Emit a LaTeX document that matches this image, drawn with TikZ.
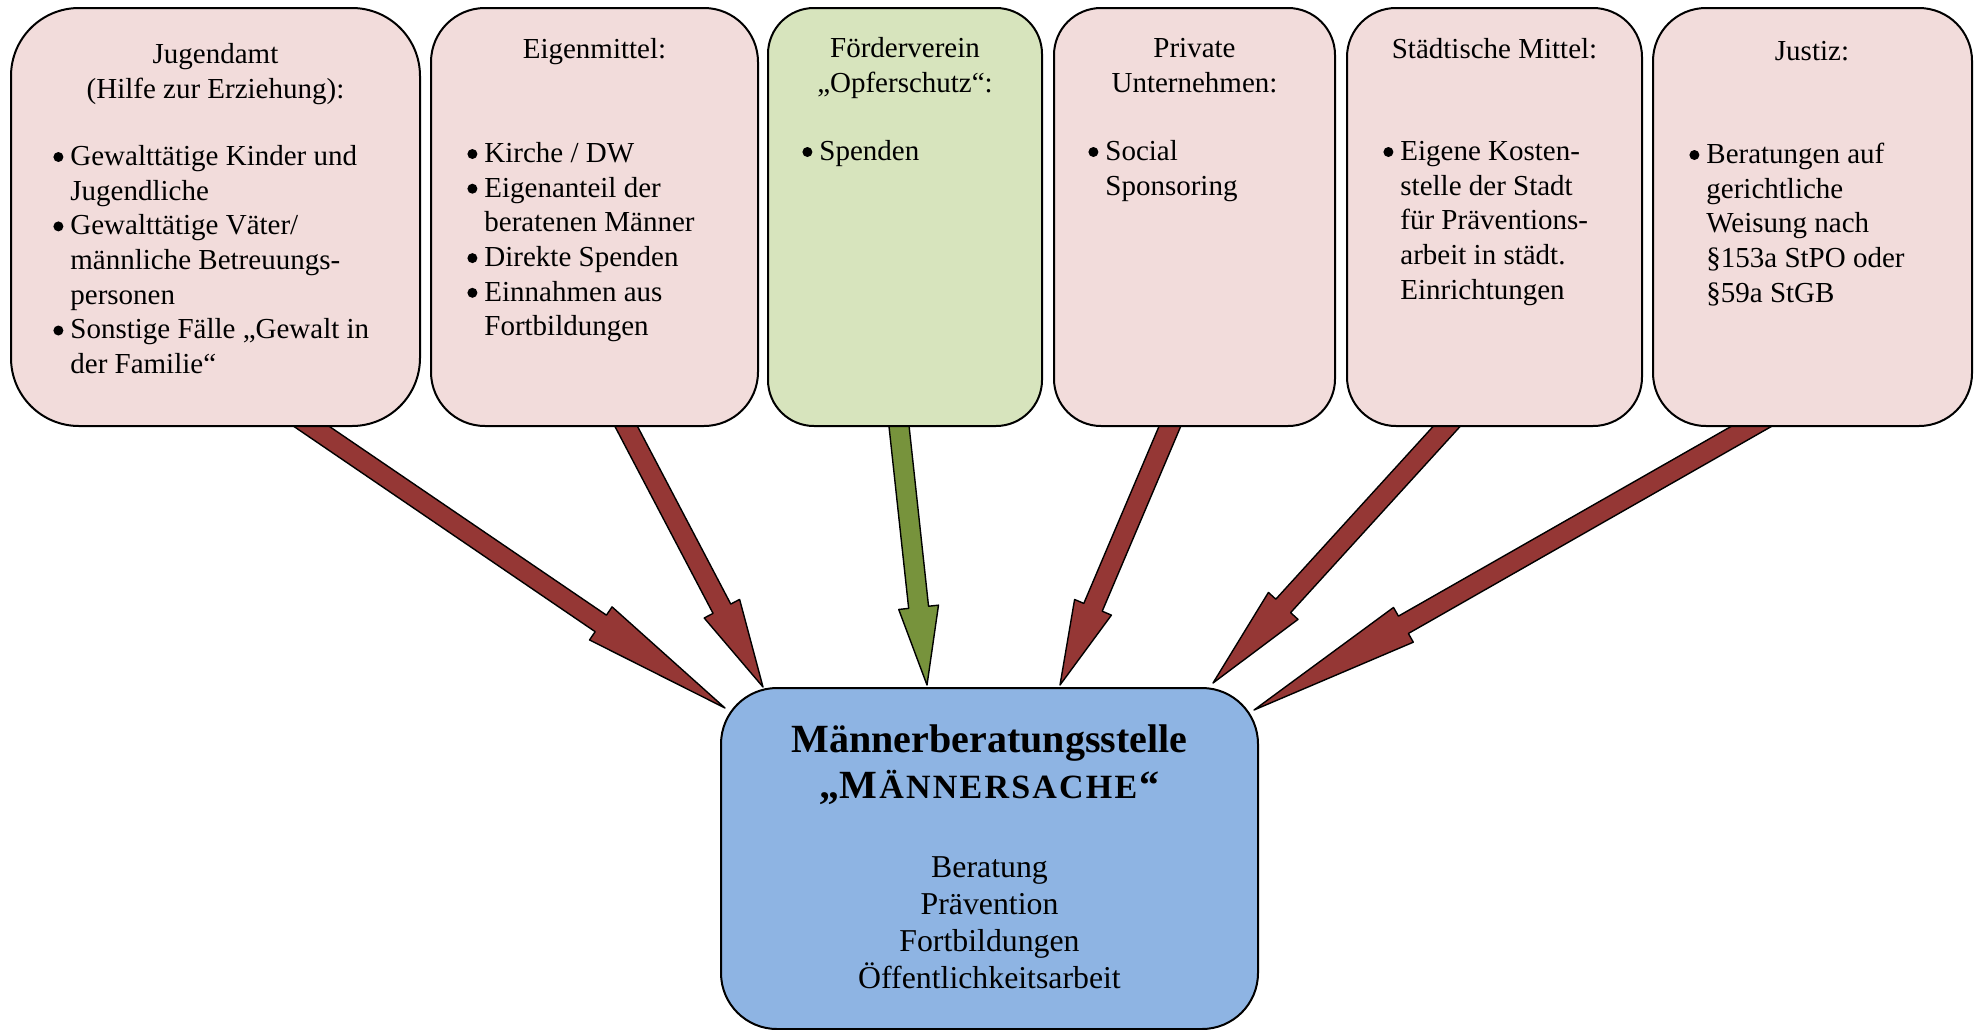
\documentclass[tikz,border=0pt]{standalone}
\usepackage{fontspec}
\setmainfont{Liberation Serif}
\usetikzlibrary{calc,fit}
\definecolor{boxpink}{HTML}{F2DCDB}
\definecolor{boxgreen}{HTML}{D7E4BD}
\definecolor{boxblue}{HTML}{8EB4E3}
\definecolor{arrred}{HTML}{953735}
\definecolor{arrgreen}{HTML}{77933C}
\newcommand\bul{\makebox[0pt][r]{\tikz[baseline=0pt]\fill (0pt,4.2pt) circle (2.5pt);\hspace{3.5pt}}}
\newcommand\tp{\rule{0pt}{14pt}}
\newcommand\sck{\kern1.1pt}
\newcommand\flowarrow[3]{%
  \coordinate (fa-h) at ($(#2)!0.7!(#3)$);
  \coordinate (fa-a) at ($(#2)!-14pt!(#3)$);
  \filldraw[#1] ($(fa-a)!5pt!90:(#3)$) -- ($(fa-h)!5pt!-90:(fa-a)$) -- ($(fa-h)!10pt!-90:(fa-a)$) -- (#3) -- ($(fa-h)!10pt!90:(fa-a)$) -- ($(fa-h)!5pt!90:(fa-a)$) -- ($(fa-a)!5pt!-90:(#3)$) -- cycle;
}
\begin{document}
\begin{tikzpicture}[x=0.5pt,y=-0.5pt,
  box/.style={draw=black, line width=1pt, inner sep=0pt},
  hdr/.style={anchor=north, inner sep=0pt, align=center, font=\fontsize{14.5}{17.35}\selectfont},
  lst/.style={anchor=north west, inner sep=0pt, align=left, font=\fontsize{14.5}{17.35}\selectfont},
  redarrow/.style={fill=arrred, draw=black, line width=0.7pt, line join=round},
  greenarrow/.style={fill=arrgreen, draw=black, line width=0.7pt, line join=round}]
\useasboundingbox (0,0) rectangle (1980,1029);

% arrow end points
\coordinate (t1) at (311,426);  \coordinate (p1) at (725,708);
\coordinate (t2) at (626,426);  \coordinate (p2) at (763,687);
\coordinate (t3) at (899,426);  \coordinate (p3) at (927,685);
\coordinate (t4) at (1170,426); \coordinate (p4) at (1060,685);
\coordinate (t5) at (1447,426); \coordinate (p5) at (1213,683);
\coordinate (t6) at (1752,426); \coordinate (p6) at (1254,710);

\flowarrow{redarrow}{t1}{p1}
\flowarrow{redarrow}{t2}{p2}
\flowarrow{greenarrow}{t3}{p3}
\flowarrow{redarrow}{t4}{p4}
\flowarrow{redarrow}{t5}{p5}
\flowarrow{redarrow}{t6}{p6}

% boxes
\node[box, fill=boxpink, rounded corners=34pt, fit={(11,8) (420,426)}] (b1) {};
\node[box, fill=boxpink, rounded corners=27pt, fit={(431,8) (758,426)}] (b2) {};
\node[box, fill=boxgreen, rounded corners=23pt, fit={(768,8) (1042,426)}] (b3) {};
\node[box, fill=boxpink, rounded corners=23.5pt, fit={(1054,8) (1335,426)}] (b4) {};
\node[box, fill=boxpink, rounded corners=24.5pt, fit={(1347,8) (1642,426)}] (b5) {};
\node[box, fill=boxpink, rounded corners=26.5pt, fit={(1653,8) (1972,426)}] (b6) {};
\node[box, fill=boxblue, rounded corners=28pt, fit={(721,688) (1258,1029)}] (c) {};

% texts
\node[hdr] (h1) at (215.5,35) {\tp Jugendamt\\(Hilfe zur Erziehung):};
\node[lst] (l1) at (70,137) {\tp\bul Gewalttätige Kinder und\\Jugendliche\\\bul Gewalttätige Väter/\\männliche Betreuungs-\\personen\\\bul Sonstige Fälle „Gewalt in\\der Familie“};

\node[hdr] (h2) at (594.5,30) {\tp Eigenmittel:};
\node[lst] (l2) at (484,134) {\tp\bul Kirche / DW\\\bul Eigenanteil der\\beratenen Männer\\\bul Direkte Spenden\\\bul Einnahmen aus\\Fortbildungen};

\node[hdr] (h3) at (905,29) {\tp Förderverein\\„Opferschutz“:};
\node[lst] (l3) at (819,132) {\tp\bul Spenden};

\node[hdr] (h4) at (1194.5,29) {\tp Private\\Unternehmen:};
\node[lst] (l4) at (1105,132) {\tp\bul Social\\Sponsoring};

\node[hdr] (h5) at (1494.5,30) {\tp Städtische Mittel:};
\node[lst] (l5) at (1400,132) {\tp\bul Eigene Kosten-\\stelle der Stadt\\für Präventions-\\arbeit in städt.\\Einrichtungen};

\node[hdr] (h6) at (1812,32) {\tp Justiz:};
\node[lst] (l6) at (1706,135) {\tp\bul Beratungen auf\\gerichtliche\\Weisung nach\\§153a StPO oder\\§59a StGB};

\node[anchor=north, inner sep=0pt, align=center, font=\fontsize{20}{23}\selectfont\bfseries] (ct) at (989.5,716)
  {\rule{0pt}{18pt}Männerberatungsstelle\\„M{\fontsize{17}{23}\selectfont\sck Ä\sck N\sck N\sck E\sck R\sck S\sck A\sck C\sck H\sck E\sck}“};
\node[anchor=north, inner sep=0pt, align=center, font=\fontsize{15.9}{18.5}\selectfont] (cl) at (989.5,849)
  {\tp Beratung\\Prävention\\Fortbildungen\\Öffentlichkeitsarbeit};
\end{tikzpicture}
\end{document}
